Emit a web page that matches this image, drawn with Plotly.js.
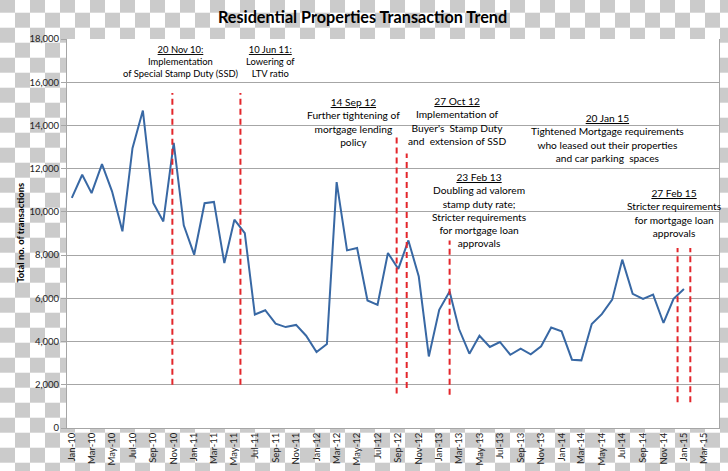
<!DOCTYPE html>
<html>
<head>
<meta charset="utf-8">
<script src="https://cdn.plot.ly/plotly-3.0.1.min.js"></script>
<style>
  html, body { margin:0; padding:0; }
  body {
    width:728px; height:471px; overflow:hidden;
    background-color:#ffffff;
    background-image: conic-gradient(#ffffff 25%, #cbcbcb 0 50%, #ffffff 0 75%, #cbcbcb 0);
    background-size: 30px 30px;
    background-position: 0px -2.3px;
  }
  #chart { width:728px; height:471px; }
</style>
</head>
<body>
<div id="chart"></div>
<script>
// Months (first of month) with transaction counts
const months = [
  '2010-01','2010-02','2010-03','2010-04','2010-05','2010-06','2010-07','2010-08','2010-09','2010-10','2010-11','2010-12',
  '2011-01','2011-02','2011-03','2011-04','2011-05','2011-06','2011-07','2011-08','2011-09','2011-10','2011-11','2011-12',
  '2012-01','2012-02','2012-03','2012-04','2012-05','2012-06','2012-07','2012-08','2012-09','2012-10','2012-11','2012-12',
  '2013-01','2013-02','2013-03','2013-04','2013-05','2013-06','2013-07','2013-08','2013-09','2013-10','2013-11','2013-12',
  '2014-01','2014-02','2014-03','2014-04','2014-05','2014-06','2014-07','2014-08','2014-09','2014-10','2014-11','2014-12',
  '2015-01'
];
const transactions = [
  10650,11720,10870,12210,10950,9100,12950,14690,10410,9560,13190,9380,
  8020,10400,10460,7630,9640,9020,5250,5450,4830,4670,4770,4270,
  3520,3890,11380,8220,8330,5900,5700,8100,7360,8680,7010,3310,
  5470,6320,4580,3440,4270,3750,3980,3390,3670,3410,3780,4650,
  4470,3160,3130,4810,5270,5940,7790,6210,5970,6170,4860,5980,
  6430
];

// Policy event markers (vertical dashed lines)
const eventDates   = ['2010-10-28','2011-05-19','2012-08-27','2012-09-26','2013-02-01','2014-12-13','2015-01-20'];
const eventBottoms = [2000, 2000, 1600, 1850, 1540, 1190, 1190];
const eventTops    = [15500, 15500, 13500, 12700, 8680, 8330, 8330];

// Event annotations
const noteTexts = [
  '<u>20 Nov 10:</u><br>Implementation<br>of Special Stamp Duty (SSD)',
  '<u>10 Jun 11:</u><br>Lowering of<br>LTV ratio',
  '<u>14 Sep 12</u><br>Further tightening of<br>mortgage lending<br>policy',
  '<u>27 Oct 12</u><br>Implementation of<br>Buyer\'s  Stamp Duty<br>and  extension of SSD',
  '<u>23 Feb 13</u><br>Doubling ad valorem<br>stamp duty rate;<br>Stricter requirements<br>for mortgage loan<br>approvals',
  '<u>20 Jan 15</u><br>Tightened Mortgage requirements<br>who leased out their properties<br>and car parking  spaces',
  '<u>27 Feb 15</u><br>Stricter requirements<br>for mortgage loan<br>approvals'
];
const noteX = ['2010-11-20','2011-08-17','2012-04-21','2013-02-24','2013-04-30','2014-05-19','2014-12-04'];
const noteY = [16980, 16950, 14170, 14195, 10100, 13420, 9950];
const noteSize = [9.4, 9.4, 10.2, 10.2, 10.2, 10.2, 10.2];

const FONT = 'Lato, "Open Sans", sans-serif';

const trace = {
  x: months,
  y: transactions,
  type: 'scatter',
  mode: 'lines',
  line: { color: '#3868a4', width: 2 },
  hoverinfo: 'x+y'
};

const shapes = eventDates.map((d, i) => ({
  type: 'line', xref: 'x', yref: 'y',
  x0: d, x1: d, y0: eventBottoms[i], y1: eventTops[i],
  line: { color: '#e3262b', width: 2, dash: '6px,4px' }
}));

const annotations = noteTexts.map((t, i) => ({
  xref: 'x', yref: 'y', x: noteX[i], y: noteY[i],
  text: t, showarrow: false, align: 'center',
  xanchor: 'center', yanchor: 'middle',
  font: { family: FONT, size: noteSize[i], color: '#000000' }
}));

annotations.push({
  xref: 'paper', yref: 'paper', x: -0.0706, y: 0.502,
  text: '<b>Total no. of transactions</b>', textangle: -90,
  showarrow: false, xanchor: 'center', yanchor: 'middle',
  font: { family: FONT, size: 9.4, color: '#000000' }
});

const layout = {
  width: 728, height: 471,
  margin: { l: 67, r: 9, t: 39, b: 43 },
  paper_bgcolor: 'rgba(0,0,0,0)',
  plot_bgcolor: '#ffffff',
  showlegend: false,
  title: {
    text: '<b>Residential Properties Transaction Trend</b>',
    x: 0.498, xref: 'container', xanchor: 'center',
    y: 0.963, yref: 'container', yanchor: 'middle',
    font: { family: FONT, size: 16.2, color: '#000000' }
  },
  xaxis: {
    type: 'date',
    range: ['2009-12-17 16:00', '2015-04-15 14:00'],
    tick0: '2010-01-01', dtick: 'M2', tickformat: '%b-%y',
    tickangle: -90,
    ticks: '', showgrid: false, zeroline: false,
    showline: true, linecolor: '#a6a6a6', linewidth: 1,
    tickfont: { family: FONT, size: 9.5, color: '#222222' }
  },
  yaxis: {
    range: [0, 18000], dtick: 2000, tickformat: ',d',
    ticks: 'outside', ticklen: 5, tickcolor: '#a6a6a6',
    showgrid: true, gridcolor: '#a6a6a6', gridwidth: 1,
    zeroline: false,
    showline: true, linecolor: '#a6a6a6', linewidth: 1, mirror: true,
    tickfont: { family: FONT, size: 9.5, color: '#222222' }
  },
  shapes: shapes,
  annotations: annotations
};

Plotly.newPlot('chart', [trace], layout, { displayModeBar: false, staticPlot: true });
</script>
</body>
</html>
